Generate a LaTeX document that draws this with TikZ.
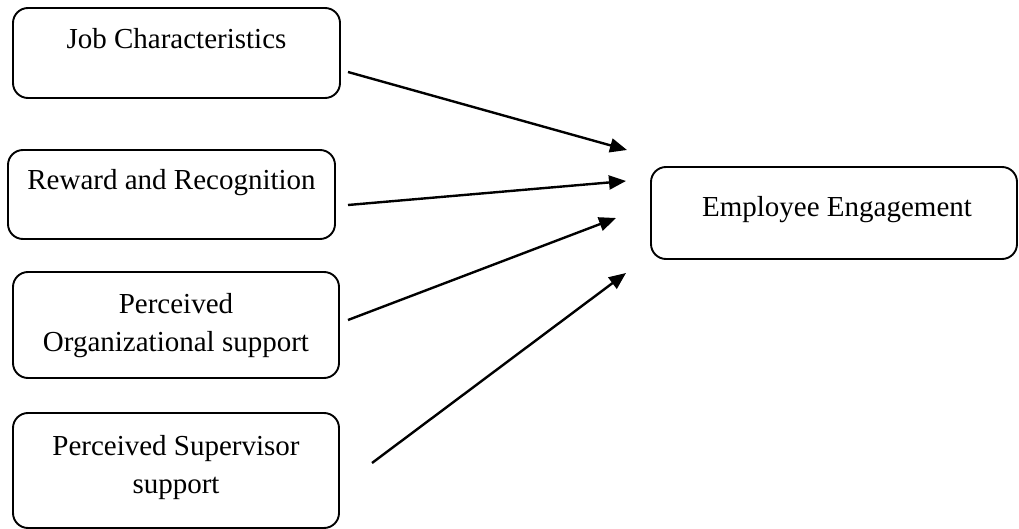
\documentclass[tikz,border=0pt]{standalone}
\usepackage{fontspec}
\setmainfont{Liberation Serif}
\usetikzlibrary{arrows.meta}
\newcommand{\mlines}[1]{\begin{tabular}[t]{@{}c@{}}#1\end{tabular}}
\begin{document}
\begin{tikzpicture}[x=1pt,y=-1pt,
  box/.style={draw=black, line width=1.9pt, rounded corners=15pt, anchor=north west, inner sep=0pt, outer sep=0pt},
  lbl/.style={anchor=base, inner sep=0pt, font=\fontsize{29}{38}\selectfont},
  conn/.style={line width=2.4pt, -{Triangle[length=17pt,width=14pt]}}]
\useasboundingbox (0,0) rectangle (1019,529);
% boxes
\node[box, minimum width=327pt, minimum height=90pt] (b1) at (13,8) {};
\node[box, minimum width=327pt, minimum height=89pt] (b2) at (8,150) {};
\node[box, minimum width=326pt, minimum height=106pt] (b3) at (13,272) {};
\node[box, minimum width=326pt, minimum height=115pt] (b4) at (13,413) {};
\node[box, minimum width=366pt, minimum height=92pt] (b5) at (651,167) {};
% texts
\node[lbl] (t1) at (176.5,49) {\mlines{Job Characteristics}};
\node[lbl] (t2) at (171.5,190) {\mlines{Reward and Recognition}};
\node[lbl] (t3) at (176,313) {\mlines{Perceived\\Organizational support}};
\node[lbl] (t4) at (176,455) {\mlines{Perceived Supervisor\\support}};
\node[lbl] (t5) at (837,217) {\mlines{Employee Engagement}};
% connector ends
\coordinate (s1) at (348,72);  \coordinate (e1) at (627,150);
\coordinate (s2) at (348,205); \coordinate (e2) at (626,181);
\coordinate (s3) at (348,320); \coordinate (e3) at (616,218);
\coordinate (s4) at (372,463); \coordinate (e4) at (626,273);
\draw[conn] (s1) -- (e1);
\draw[conn] (s2) -- (e2);
\draw[conn] (s3) -- (e3);
\draw[conn] (s4) -- (e4);
\end{tikzpicture}
\end{document}
